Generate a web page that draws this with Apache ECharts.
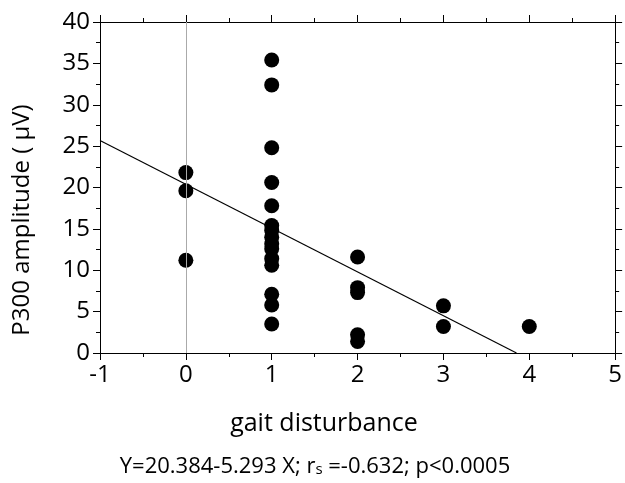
<!DOCTYPE html>
<html><head><meta charset="utf-8">
<script src="https://cdn.jsdelivr.net/npm/echarts@6/dist/echarts.min.js"></script>
<style>html,body{margin:0;padding:0;background:#fff}#c{width:625px;height:483px}</style>
</head><body><div id="c"></div>
<script>
const gaitX = [0,0,0, 1,1,1,1,1,1,1,1,1,1,1,1,1,1,1, 2,2,2,2,2, 3,3, 4];
const p300Y = [21.8,19.6,11.2, 35.4,32.4,24.8,20.6,17.8,15.4,14.8,14.0,13.2,12.6,11.4,10.6,7.1,5.8,3.5, 11.6,7.9,7.3,2.2,1.4, 5.7,3.2, 3.2];
const xTicks = [-1,0,1,2,3,4,5];
const yTicks = [0,5,10,15,20,25,30,35,40];
const intercept = 20.384, slope = -5.293;
const fitLine = [[-1, intercept + slope * -1], [-intercept / slope, 0]];

const pts = gaitX.map((x,i)=>[x,p300Y[i]]);
const F = 'Open Sans, sans-serif';
const chart = echarts.init(document.getElementById('c'));
const axisCommon = {
  axisLine:{show:true,onZero:false,lineStyle:{color:'#000',width:1}},
  axisTick:{show:true,inside:false,length:7,lineStyle:{color:'#000'}},
  minorTick:{show:true,splitNumber:2,length:4,lineStyle:{color:'#000'}},
  splitLine:{show:false}
};
chart.setOption({
  animation:false,
  grid:{left:100,right:7,top:22,bottom:130},
  xAxis:[
    Object.assign({type:'value',min:-1,max:5,interval:1,position:'bottom',
      axisLabel:{fontSize:24,color:'#000',fontFamily:F,margin:10}}, axisCommon),
    Object.assign({type:'value',min:-1,max:5,interval:1,position:'top',
      axisLabel:{show:false}}, axisCommon)
  ],
  yAxis:[
    Object.assign({type:'value',min:0,max:40,interval:5,position:'left',
      axisLabel:{fontSize:24,color:'#000',fontFamily:F,margin:10}}, axisCommon),
    Object.assign({type:'value',min:0,max:40,interval:5,position:'right',
      axisLabel:{show:false}}, axisCommon)
  ],
  graphic:[
    {type:'text',x:324,y:424,
     style:{text:'gait disturbance',fontSize:25,fontFamily:F,fill:'#000',align:'center',verticalAlign:'middle'}},
    {type:'text',x:22,y:220,rotation:Math.PI/2,
     style:{text:'P300 amplitude ( μV)',fontSize:24,fontFamily:F,fill:'#000',align:'center',verticalAlign:'middle'}},
    {type:'text',x:315,y:467,
     style:{text:'Y=20.384-5.293 X; r{s|s} =-0.632; p<0.0005',
      rich:{s:{fontSize:15,fontFamily:F,padding:[6,0,0,0]}},
      fontSize:22,fontFamily:F,fill:'#000',align:'center',verticalAlign:'middle'}}
  ],
  series:[
    {type:'line',data:fitLine,symbol:'none',lineStyle:{color:'#000',width:1.2},z:2,
     markLine:{silent:true,symbol:'none',label:{show:false},
       lineStyle:{color:'#aaa',width:1,type:'solid'},data:[{xAxis:0}]}},
    {type:'scatter',data:pts,symbol:'circle',symbolSize:15,itemStyle:{color:'#000',opacity:1},z:3}
  ]
});
</script></body></html>
